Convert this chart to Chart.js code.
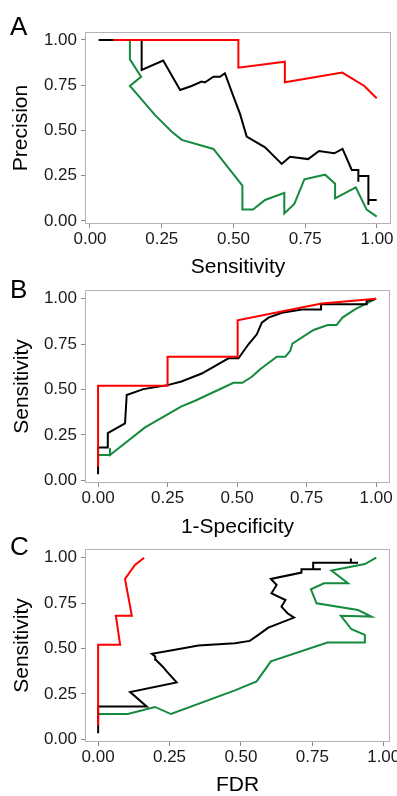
<!DOCTYPE html>
<html>
<head>
<meta charset="utf-8">
<script src="https://cdn.jsdelivr.net/npm/chart.js@4"></script>
<style>
  html, body { margin: 0; padding: 0; background: #fff; }
  #wrap { position: relative; width: 397px; height: 796px; }
  #wrap canvas { position: absolute; left: 0; top: 0; }
</style>
</head>
<body>
<div id="wrap">
  <canvas id="panel-a" width="397" height="796"></canvas>
  <canvas id="panel-b" width="397" height="796"></canvas>
  <canvas id="panel-c" width="397" height="796"></canvas>
</div>
<script>
// tick labels shared by every axis
var tickValues = [0, 0.25, 0.5, 0.75, 1];

// A: precision vs sensitivity
var aRedX = [0.081, 0.517, 0.517, 0.679, 0.679, 0.879, 0.956, 0.999];
var aRedY = [1.0, 1.0, 0.847, 0.88, 0.766, 0.82, 0.746, 0.678];
var aBlackX = [0.03, 0.18, 0.18, 0.255, 0.314, 0.354, 0.389, 0.40, 0.43, 0.453, 0.47, 0.50, 0.523, 0.546, 0.61, 0.668, 0.697, 0.76, 0.798, 0.851, 0.88, 0.912, 0.935, 0.935, 0.935, 0.97, 0.97, 0.97, 0.999];
var aBlackY = [1.0, 1.0, 0.834, 0.886, 0.724, 0.746, 0.77, 0.765, 0.797, 0.797, 0.816, 0.687, 0.59, 0.466, 0.407, 0.315, 0.355, 0.342, 0.387, 0.374, 0.398, 0.282, 0.282, 0.217, 0.249, 0.249, 0.088, 0.116, 0.116];
var aGreenX = [0.139, 0.139, 0.178, 0.139, 0.226, 0.285, 0.32, 0.43, 0.531, 0.531, 0.568, 0.61, 0.677, 0.677, 0.712, 0.747, 0.819, 0.854, 0.854, 0.926, 0.964, 0.999];
var aGreenY = [1.0, 0.893, 0.797, 0.746, 0.586, 0.493, 0.448, 0.398, 0.195, 0.063, 0.063, 0.116, 0.155, 0.042, 0.094, 0.23, 0.256, 0.206, 0.125, 0.186, 0.063, 0.024];

// B: ROC
var bRedX = [0, 0, 0.25, 0.25, 0.502, 0.502, 0.745, 0.805, 1.0];
var bRedY = [0.075, 0.52, 0.52, 0.681, 0.681, 0.881, 0.956, 0.974, 1.0];
var bBlackX = [0, 0, 0.035, 0.035, 0.097, 0.103, 0.163, 0.25, 0.30, 0.373, 0.469, 0.505, 0.541, 0.571, 0.589, 0.613, 0.661, 0.733, 0.802, 0.802, 0.966, 0.966, 1.0];
var bBlackY = [0.033, 0.181, 0.181, 0.26, 0.313, 0.47, 0.502, 0.524, 0.544, 0.588, 0.672, 0.672, 0.749, 0.804, 0.868, 0.896, 0.923, 0.941, 0.941, 0.969, 0.969, 0.987, 1.0];
var bGreenX = [0, 0.043, 0.043, 0.043, 0.169, 0.30, 0.349, 0.487, 0.519, 0.553, 0.583, 0.643, 0.673, 0.691, 0.699, 0.775, 0.826, 0.858, 0.879, 0.924, 1.0];
var bGreenY = [0.139, 0.139, 0.176, 0.139, 0.291, 0.407, 0.438, 0.537, 0.537, 0.57, 0.612, 0.68, 0.68, 0.712, 0.753, 0.828, 0.855, 0.855, 0.896, 0.941, 1.0];

// C: sensitivity vs FDR
var cRedX = [0, 0, 0.077, 0.062, 0.118, 0.094, 0.129, 0.161];
var cRedY = [0.075, 0.52, 0.52, 0.681, 0.681, 0.883, 0.96, 1.0];
var cBlackX = [0, 0, 0.17, 0.112, 0.275, 0.24, 0.228, 0.202, 0.2, 0.188, 0.269, 0.351, 0.479, 0.531, 0.561, 0.596, 0.686, 0.663, 0.642, 0.656, 0.607, 0.625, 0.605, 0.712, 0.712, 0.78, 0.753, 0.753, 0.91, 0.885, 0.885];
var cBlackY = [0.033, 0.181, 0.181, 0.26, 0.313, 0.374, 0.397, 0.438, 0.456, 0.471, 0.493, 0.516, 0.529, 0.542, 0.575, 0.615, 0.67, 0.694, 0.731, 0.767, 0.804, 0.85, 0.883, 0.918, 0.936, 0.936, 0.936, 0.972, 0.972, 0.972, 0.995];
var cGreenX = [0, 0.104, 0.199, 0.255, 0.479, 0.555, 0.605, 0.803, 0.934, 0.934, 0.887, 0.85, 0.957, 0.91, 0.765, 0.745, 0.791, 0.875, 0.817, 0.934, 0.974];
var cGreenY = [0.139, 0.139, 0.178, 0.139, 0.269, 0.319, 0.429, 0.533, 0.533, 0.575, 0.606, 0.68, 0.676, 0.712, 0.749, 0.826, 0.859, 0.859, 0.929, 0.965, 1.0];

var RED = '#ff0000', BLACK = '#000000', GREEN = '#138a3c';
var FONT = "'Liberation Sans', Arial, sans-serif";

function pts(xs, ys) {
    return xs.map(function (x, i) { return { x: x, y: ys[i] }; });
}

function line(xs, ys, color) {
    return {
        data: pts(xs, ys),
        borderColor: color,
        borderWidth: 2,
        pointRadius: 0,
        showLine: true,
        fill: false,
        tension: 0
    };
}

// grey frame round the plot area + panel letter
var framePlugin = {
    id: 'frame',
    afterDraw: function (chart) {
        var a = chart.chartArea, ctx = chart.ctx;
        var o = chart.options.plugins.frame;
        ctx.save();
        ctx.strokeStyle = '#b3b3b3';
        ctx.lineWidth = 1;
        ctx.strokeRect(a.left + 0.5, a.top + 0.5, a.right - a.left - 1, a.bottom - a.top - 1);
        ctx.fillStyle = '#000';
        ctx.font = '26px ' + FONT;
        ctx.textBaseline = 'alphabetic';
        ctx.fillText(o.letter, 10, o.letterY);
        ctx.restore();
    }
};

function axis(min, max, title, horizontal, size, titlePad) {
    return {
        type: 'linear',
        min: min,
        max: max,
        afterBuildTicks: function (s) {
            s.ticks = tickValues.map(function (v) { return { value: v }; });
        },
        afterFit: function (s) {
            if (horizontal) s.height = size; else s.width = size;
            s.paddingLeft = 0; s.paddingRight = 0; s.paddingTop = 0; s.paddingBottom = 0;
        },
        grid: { display: true, drawOnChartArea: false, drawTicks: true, tickLength: 4, color: '#888', tickWidth: 1 },
        border: { display: false },
        ticks: {
            autoSkip: false,
            maxRotation: 0,
            padding: horizontal ? 1 : 4,
            color: '#1a1a1a',
            font: { family: FONT, size: 17 },
            callback: function (v) { return Number(v).toFixed(2); }
        },
        title: {
            display: true,
            text: title,
            color: '#000',
            font: { family: FONT, size: 21, lineHeight: 1 },
            padding: horizontal ? { top: 0, bottom: titlePad } : { top: titlePad, bottom: 0 }
        }
    };
}

function makePanel(id, cfg) {
    return new Chart(document.getElementById(id), {
        type: 'scatter',
        data: {
            datasets: [
                line(cfg.red[0], cfg.red[1], RED),
                line(cfg.black[0], cfg.black[1], BLACK),
                line(cfg.green[0], cfg.green[1], GREEN)
            ]
        },
        options: {
            responsive: false,
            animation: false,
            layout: { padding: cfg.padding },
            plugins: {
                legend: { display: false },
                tooltip: { enabled: false },
                frame: { letter: cfg.letter, letterY: cfg.letterY }
            },
            scales: {
                x: axis(cfg.xRange[0], cfg.xRange[1], cfg.xTitle, true, cfg.xSize, cfg.xTitlePad),
                y: axis(cfg.yRange[0], cfg.yRange[1], cfg.yTitle, false, 85, cfg.yTitlePad)
            }
        },
        plugins: [framePlugin]
    });
}

makePanel('panel-a', {
    red: [aRedX, aRedY], black: [aBlackX, aBlackY], green: [aGreenX, aGreenY],
    xRange: [-0.0174, 1.0488], yRange: [-0.0166, 1.044],
    xTitle: 'Sensitivity', yTitle: 'Precision',
    padding: { top: 32, bottom: 514, left: 0, right: 6 },
    xSize: 58, xTitlePad: 4, yTitlePad: 11,
    letter: 'A', letterY: 35
});

makePanel('panel-b', {
    red: [bRedX, bRedY], black: [bBlackX, bBlackY], green: [bGreenX, bGreenY],
    xRange: [-0.047, 1.05], yRange: [-0.015, 1.048],
    xTitle: '1-Specificity', yTitle: 'Sensitivity',
    padding: { top: 290, bottom: 256, left: 0, right: 7 },
    xSize: 57, xTitlePad: 2, yTitlePad: 12,
    letter: 'B', letterY: 298
});

makePanel('panel-c', {
    red: [cRedX, cRedY], black: [cBlackX, cBlackY], green: [cGreenX, cGreenY],
    xRange: [-0.046, 1.022], yRange: [-0.015, 1.048],
    xTitle: 'FDR', yTitle: 'Sensitivity',
    padding: { top: 549, bottom: 0, left: 0, right: 7 },
    xSize: 54, xTitlePad: 0, yTitlePad: 12,
    letter: 'C', letterY: 555
});
</script>
</body>
</html>
